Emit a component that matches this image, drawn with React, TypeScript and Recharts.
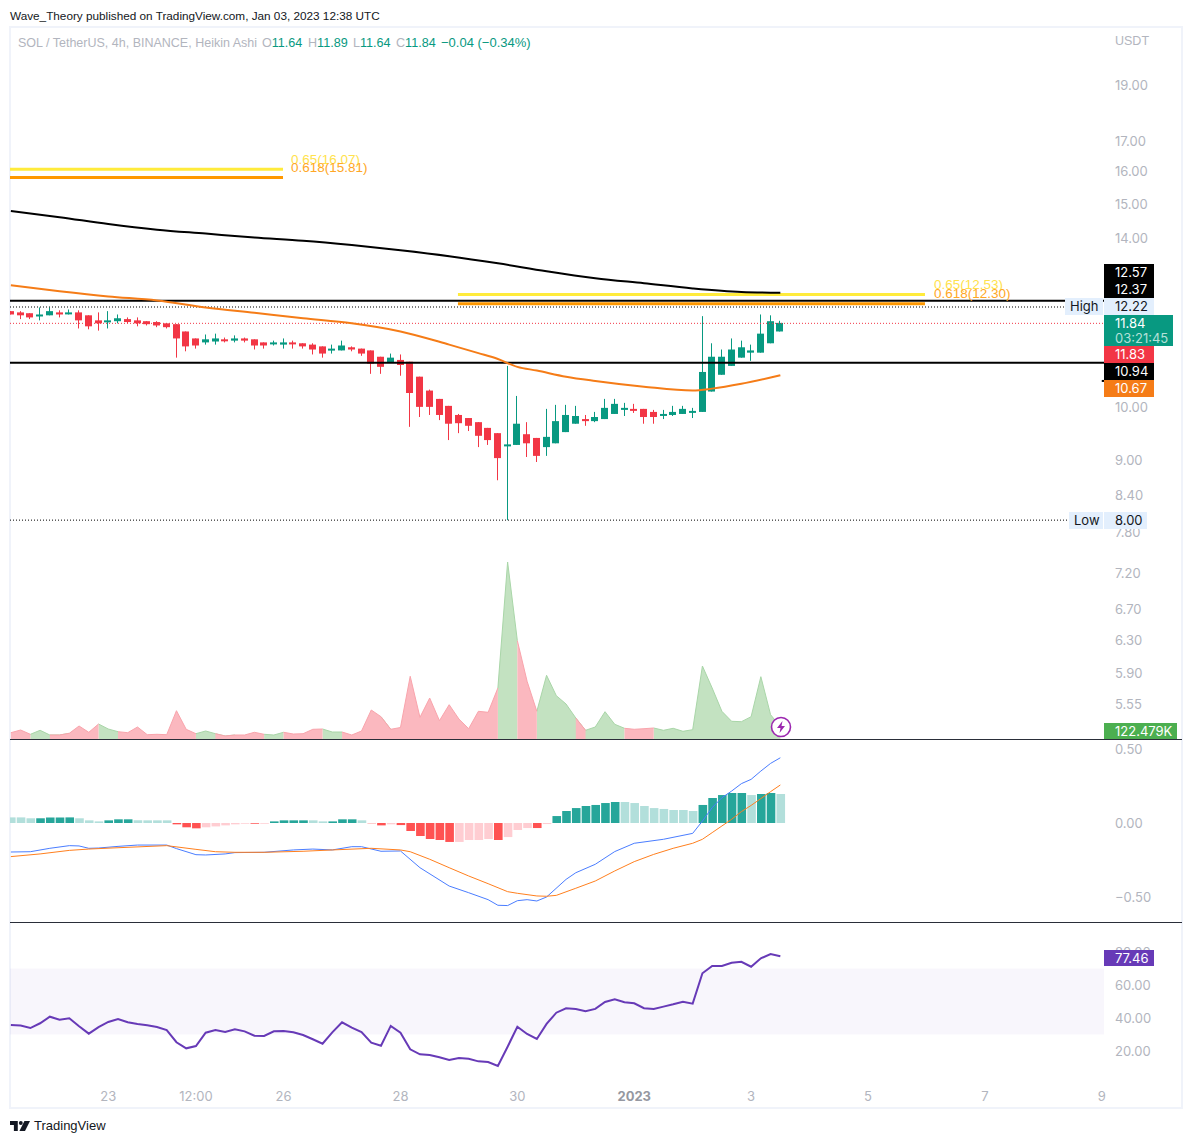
import {
  Area,
  Bar,
  Cell,
  ComposedChart,
  Line,
  ReferenceArea,
  ReferenceLine,
  XAxis,
  YAxis,
} from "recharts";

// heikin ashi candles, one entry per 4h bar
const opens = [
  12.12, 12.09, 12.07, 12.02, 12.02, 12.09, 12.07, 12.09, 12.02, 11.9, 11.86, 11.88, 11.93, 11.9, 11.88, 11.86,
  11.83, 11.81, 11.64, 11.48, 11.39, 11.41, 11.46, 11.43, 11.48, 11.46, 11.39, 11.37, 11.34, 11.39, 11.37, 11.34,
  11.3, 11.23, 11.21, 11.28, 11.25, 11.21, 11.07, 10.94, 11.0, 10.96, 10.64, 10.35, 10.18, 10.04, 9.86, 9.8,
  9.72, 9.61, 9.51, 9.27, 9.29, 9.49, 9.42, 9.25, 9.32, 9.53, 9.69, 9.78, 9.74, 9.78, 9.88, 9.96,
  9.98, 9.98, 9.92, 9.86, 9.86, 9.88, 9.92, 9.92, 10.33, 10.68, 10.87, 11.05, 11.16, 11.16, 11.37, 11.64,
];
const highs = [
  12.12, 12.12, 12.07, 12.21, 12.21, 12.14, 12.16, 12.14, 12.02, 12.09, 12.12, 12.04, 11.97, 11.97, 11.88, 11.88,
  11.83, 11.81, 11.64, 11.48, 11.57, 11.59, 11.5, 11.55, 11.5, 11.46, 11.39, 11.43, 11.48, 11.43, 11.37, 11.37,
  11.3, 11.34, 11.43, 11.3, 11.25, 11.21, 11.07, 11.14, 11.12, 10.96, 10.64, 10.37, 10.18, 10.04, 9.88, 9.8,
  9.72, 9.61, 9.51, 10.87, 10.24, 9.72, 9.42, 9.98, 10.06, 10.06, 10.04, 9.86, 9.92, 10.18, 10.18, 10.1,
  10.08, 9.98, 9.96, 9.96, 10.04, 10.04, 10.0, 12.0, 11.37, 11.23, 11.48, 11.43, 11.34, 12.04, 12.02, 11.89,
];
const lows = [
  12.04, 11.93, 11.93, 11.9, 12.02, 11.97, 12.04, 11.71, 11.69, 11.66, 11.71, 11.83, 11.83, 11.76, 11.78, 11.74,
  11.71, 11.05, 11.19, 11.25, 11.34, 11.34, 11.39, 11.39, 11.39, 11.23, 11.25, 11.32, 11.25, 11.25, 11.25, 11.12,
  11.05, 11.14, 11.21, 11.19, 11.09, 10.7, 10.7, 10.94, 10.66, 9.63, 9.82, 9.86, 9.76, 9.38, 9.51, 9.55,
  9.25, 9.29, 8.66, 8.0, 9.29, 9.07, 8.98, 9.09, 9.32, 9.53, 9.69, 9.65, 9.72, 9.78, 9.88, 9.84,
  9.9, 9.69, 9.69, 9.78, 9.84, 9.88, 9.8, 9.92, 10.33, 10.68, 10.87, 11.05, 10.98, 11.16, 11.37, 11.64,
];
const closes = [
  12.04, 12.02, 11.97, 12.04, 12.12, 12.04, 12.09, 11.9, 11.76, 11.83, 11.9, 11.95, 11.86, 11.83, 11.81, 11.78,
  11.74, 11.48, 11.3, 11.32, 11.46, 11.48, 11.43, 11.48, 11.43, 11.32, 11.32, 11.39, 11.39, 11.37, 11.3, 11.23,
  11.14, 11.25, 11.32, 11.23, 11.14, 10.92, 10.85, 11.05, 10.89, 10.3, 10.02, 10.02, 9.86, 9.69, 9.7, 9.65,
  9.46, 9.38, 9.05, 9.3, 9.69, 9.32, 9.09, 9.44, 9.74, 9.86, 9.84, 9.74, 9.82, 10.0, 10.08, 10.0,
  9.96, 9.82, 9.82, 9.88, 9.92, 9.98, 9.94, 10.74, 11.07, 11.07, 11.23, 11.28, 11.21, 11.59, 11.88, 11.84,
];
// volume in thousands
const volumes = [
  63, 90, 47, 87, 40, 40, 57, 130, 67, 150, 100, 73, 63, 120, 43, 47,
  43, 283, 97, 53, 80, 53, 30, 40, 40, 67, 47, 40, 67, 50, 53, 97,
  100, 70, 70, 40, 80, 290, 223, 97, 115, 627, 217, 410, 183, 343, 200, 103,
  277, 267, 510, 1770, 983, 577, 277, 637, 433, 350, 210, 87, 120, 273, 147, 107,
  97, 103, 110, 87, 107, 77, 93, 730, 510, 277, 177, 173, 223, 623, 243, 122.479,
];
const ema200Index = [0, 5, 10, 15, 20, 25, 30, 35, 40, 45, 50, 55, 60, 65, 70, 75, 79];
const ema200Values = [
  14.79, 14.61, 14.41, 14.25, 14.14, 14.03, 13.94, 13.82, 13.68, 13.52, 13.33, 13.12, 12.94, 12.81, 12.68, 12.59, 12.57,
];
const ema100Index = [0, 5, 10, 15, 20, 25, 30, 35, 40, 45, 48, 50, 52, 54, 57, 60, 65, 70, 72, 75, 79];
const ema100Values = [
  12.76, 12.61, 12.48, 12.38, 12.21, 12.08, 11.95, 11.83, 11.64, 11.34, 11.15, 11.02, 10.85, 10.77, 10.64, 10.55,
  10.43, 10.35, 10.39, 10.49, 10.67,
];
const histValues = [
  0.038, 0.038, 0.032, 0.032, 0.038, 0.038, 0.038, 0.032, 0.018, 0.011, 0.018, 0.025, 0.025, 0.018, 0.018, 0.018,
  0.018, -0.009, -0.029, -0.036, -0.029, -0.023, -0.016, -0.009, -0.005, -0.005, -0.005, 0.011, 0.018, 0.018, 0.018, 0.018,
  0.011, 0.011, 0.025, 0.025, 0.018, -0.002, -0.016, -0.009, -0.014, -0.054, -0.088, -0.108, -0.115, -0.128, -0.128, -0.115,
  -0.115, -0.108, -0.115, -0.095, -0.047, -0.034, -0.034, -0.007, 0.047, 0.081, 0.101, 0.115, 0.122, 0.135, 0.142, 0.142,
  0.135, 0.115, 0.101, 0.095, 0.088, 0.088, 0.081, 0.122, 0.169, 0.189, 0.203, 0.203, 0.189, 0.196, 0.203, 0.196,
];
const histLight = [
  0, 1, 2, 7, 8, 9, 13, 14, 15, 16, 20, 21, 22, 23, 24, 26, 31, 32, 36, 39, 46, 47, 48, 49, 51, 52, 53, 55, 63, 64, 65,
  66, 67, 68, 69, 70, 76, 79,
];
const macdIndex = [
  0, 2, 4, 6, 7, 8, 9, 11, 13, 16, 17, 19, 20, 22, 23, 26, 29, 31, 33, 35, 36, 38, 40, 42, 45, 47, 49, 50, 51, 52, 53,
  54, 55, 57, 58, 60, 62, 64, 67, 70, 71, 72, 73, 74, 75, 76, 77, 78, 79,
];
const macdValues = [
  -0.196, -0.194, -0.171, -0.153, -0.155, -0.171, -0.169, -0.158, -0.149, -0.149, -0.173, -0.214, -0.216, -0.209, -0.2,
  -0.198, -0.182, -0.176, -0.182, -0.16, -0.16, -0.191, -0.189, -0.302, -0.426, -0.471, -0.518, -0.556, -0.558, -0.525,
  -0.518, -0.527, -0.5, -0.381, -0.336, -0.279, -0.193, -0.137, -0.11, -0.07, 0.013, 0.104, 0.171, 0.216, 0.266, 0.295,
  0.351, 0.403, 0.441,
];
const signalIndex = [
  0, 3, 6, 8, 11, 16, 19, 21, 23, 26, 30, 33, 37, 40, 41, 43, 45, 47, 49, 51, 52, 54, 55, 56, 58, 60, 62, 64, 66, 68, 70,
  71, 72, 73, 74, 75, 76, 77, 78, 79,
];
const signalValues = [
  -0.227, -0.209, -0.185, -0.176, -0.167, -0.153, -0.178, -0.194, -0.198, -0.198, -0.191, -0.182, -0.171, -0.182, -0.194,
  -0.245, -0.302, -0.358, -0.41, -0.464, -0.475, -0.493, -0.495, -0.489, -0.441, -0.392, -0.324, -0.261, -0.212, -0.171,
  -0.137, -0.11, -0.065, -0.02, 0.025, 0.077, 0.119, 0.165, 0.212, 0.257,
];
const rsiValues = [
  35.8, 35.4, 33.9, 36.8, 40.8, 39, 39.8, 35, 30.5, 34.4, 37.6, 39.4, 37.4, 36.4, 35.6, 34.5,
  32.7, 25.3, 21.6, 23, 31.1, 32.7, 31.5, 33.1, 31.9, 29.3, 29.1, 31.9, 32.1, 31.3, 29.7, 27.1,
  24.4, 31.3, 37.4, 34.1, 31.5, 25, 23.2, 35.2, 31.1, 21, 18, 17.6, 16.2, 14.5, 15.8, 15.3,
  13.7, 13.3, 10.9, 22.6, 34.7, 30.3, 27.3, 36.4, 43.2, 45.9, 45.5, 44.1, 45.5, 49.7, 51.3, 49.5,
  48.9, 45.9, 45.5, 46.9, 48.3, 49.9, 48.7, 67.1, 71.5, 71.5, 73.5, 74.1, 71.1, 76.2, 78.8, 77.46,
];

const priceTicks = [19, 17, 16, 15, 14, 10, 9, 8.4, 7.8, 7.2, 6.7, 6.3, 5.9, 5.55];
const macdTicks = [0.5, 0, -0.5];
const rsiTicks = [80, 60, 40, 20];
const timeTicks = [10, 19, 28, 40, 52, 64, 76, 88, 100, 112];
const timeLabels = ["23", "12:00", "26", "28", "30", "2023", "3", "5", "7", "9"];

const UP = "#089981";
const DOWN = "#f23645";
const GREY = "#b2b5be";
const FONT = "Inter, 'Liberation Sans', sans-serif";
const TITLE_FONT = "'Liberation Sans', sans-serif";
const X_DOMAIN: [number, number] = [-0.09, 112.23];
const CHART_W = 1172;
const MARGIN = { top: 0, right: 0, left: 0, bottom: 0 };

const isUp = (i: number) => i < closes.length && closes[i] >= opens[i];
const isDown = (i: number) => i < closes.length && closes[i] < opens[i];
const lookup = (idx: number[], vals: number[], i: number) => {
  const at = idx.indexOf(i);
  return at < 0 ? null : vals[at];
};

const rows = opens.map((open, i) => ({
  i,
  open,
  high: highs[i],
  low: lows[i],
  close: closes[i],
  range: [lows[i], highs[i]],
  // a volume segment takes the colour of the bar it runs into
  volUp: isUp(i) || isUp(i + 1) ? volumes[i] : null,
  volDown: isDown(i) || isDown(i + 1) ? volumes[i] : null,
  ema200: lookup(ema200Index, ema200Values, i),
  ema100: lookup(ema100Index, ema100Values, i),
  hist: histValues[i],
  macd: lookup(macdIndex, macdValues, i),
  signal: lookup(signalIndex, signalValues, i),
  rsi: rsiValues[i],
}));

const histColor = (v: number, i: number) => {
  const light = histLight.includes(i);
  if (v >= 0) return light ? "#b2dfdb" : "#26a69a";
  return light ? "#ffcdd2" : "#ff5252";
};

// the bar spans low..high on the log scale, the body is placed inside that span
const Candle = (props: any) => {
  const { x, y, width, height, payload } = props;
  const top = Math.min(y, y + height);
  const h = Math.abs(height);
  const cx = Math.round(x + width / 2 - 0.5) + 0.5;
  const color = payload.close >= payload.open ? UP : DOWN;
  const span = Math.log(payload.high) - Math.log(payload.low) || 1;
  const at = (p: number) => top + (h * (Math.log(payload.high) - Math.log(p))) / span;
  const bodyTop = at(Math.max(payload.open, payload.close));
  const bodyBottom = at(Math.min(payload.open, payload.close));
  return (
    <g>
      <line x1={cx} x2={cx} y1={top} y2={top + h} stroke={color} strokeWidth={1} />
      <rect x={cx - 3.5} y={bodyTop} width={7} height={Math.max(bodyBottom - bodyTop, 2)} fill={color} />
    </g>
  );
};

const TimeTick = (props: any) => {
  const { x, y, payload } = props;
  const label = timeLabels[timeTicks.indexOf(payload.value)];
  const strong = label === "2023";
  return (
    <text
      x={x}
      y={y}
      dy={9}
      textAnchor="middle"
      fontSize={13}
      fontWeight={strong ? 700 : 400}
      fill={strong ? "#9598a1" : GREY}
      fontFamily={FONT}
    >
      {label}
    </text>
  );
};

const Tag = ({ left, top, width, height, bg, color = "#fff", pad = 11, children }: any) => (
  <div
    style={{
      position: "absolute",
      left,
      top,
      width: width - pad,
      height,
      lineHeight: `${height}px`,
      paddingLeft: pad,
      background: bg,
      color,
      fontSize: 13,
      whiteSpace: "nowrap",
    }}
  >
    {children}
  </div>
);

const Note = ({ left, top, color, size = 12.5, weight = 400, font = TITLE_FONT, children }: any) => (
  <div
    style={{
      position: "absolute",
      left,
      top,
      color,
      fontSize: size,
      fontWeight: weight,
      fontFamily: font,
      lineHeight: "16px",
      whiteSpace: "nowrap",
    }}
  >
    {children}
  </div>
);

const segment = (from: number, to: number, y: number) => [
  { x: from, y },
  { x: to, y },
];

const axisTick = { fill: GREY, fontSize: 13, fontFamily: FONT };

export default function App() {
  return (
    <div
      style={{
        position: "absolute",
        left: 0,
        top: 0,
        width: 1192,
        height: 1143,
        background: "#fff",
        fontFamily: FONT,
        overflow: "hidden",
      }}
    >
      <Note left={10} top={8} color="#131722" size={11.75}>
        Wave_Theory published on TradingView.com, Jan 03, 2023 12:38 UTC
      </Note>

      <div
        style={{
          position: "absolute",
          left: 9,
          top: 26,
          width: 1170,
          height: 1079,
          border: "2px solid #f0f3fa",
        }}
      />

      <div style={{ position: "absolute", left: 10, top: 27 }}>
        <ComposedChart width={CHART_W} height={712} data={rows} margin={MARGIN}>
          <XAxis dataKey="i" type="number" domain={X_DOMAIN} allowDataOverflow hide />
          <YAxis
            yAxisId="price"
            orientation="right"
            width={78}
            scale="log"
            domain={[5.178, 21.32]}
            allowDataOverflow
            ticks={priceTicks}
            interval={0}
            tick={axisTick}
            tickFormatter={(v: number) => v.toFixed(2)}
            axisLine={false}
            tickLine={false}
            tickMargin={5}
          />
          <YAxis yAxisId="vol" hide domain={[0, 7120]} />
          <Area
            yAxisId="vol"
            dataKey="volUp"
            type="linear"
            stroke="#a9d6a8"
            strokeWidth={1}
            fill="#c3e2c1"
            fillOpacity={1}
            isAnimationActive={false}
          />
          <Area
            yAxisId="vol"
            dataKey="volDown"
            type="linear"
            stroke="#f9a4ac"
            strokeWidth={1}
            fill="#fbb8bf"
            fillOpacity={1}
            isAnimationActive={false}
          />
          <ReferenceLine yAxisId="price" segment={segment(-0.09, 112.23, 11.83)} stroke={DOWN} strokeDasharray="1 2" />
          <ReferenceLine yAxisId="price" segment={segment(-0.09, 108.2, 12.22)} stroke="#000" strokeDasharray="1 2" />
          <ReferenceLine yAxisId="price" segment={segment(-0.09, 108.6, 8.0)} stroke="#000" strokeDasharray="1 2" />
          <ReferenceLine yAxisId="price" segment={segment(-0.09, 112.23, 12.37)} stroke="#000" strokeWidth={2} />
          <ReferenceLine yAxisId="price" segment={segment(-0.09, 112.23, 10.94)} stroke="#000" strokeWidth={2} />
          <ReferenceLine yAxisId="price" segment={segment(-0.09, 27.94, 16.07)} stroke="#ffeb3b" strokeWidth={3} />
          <ReferenceLine yAxisId="price" segment={segment(-0.09, 27.94, 15.81)} stroke="#ff9800" strokeWidth={3} />
          <ReferenceLine yAxisId="price" segment={segment(45.9, 93.85, 12.53)} stroke="#ffeb3b" strokeWidth={3} />
          <ReferenceLine yAxisId="price" segment={segment(45.9, 93.85, 12.3)} stroke="#ff9800" strokeWidth={3} />
          <ReferenceLine yAxisId="price" segment={segment(112, 112.23, 10.55)} stroke="#000" strokeWidth={2} />
          <Bar yAxisId="price" dataKey="range" barSize={7} shape={<Candle />} isAnimationActive={false} />
          <Line
            yAxisId="price"
            dataKey="ema200"
            type="monotone"
            stroke="#000"
            strokeWidth={2}
            dot={false}
            connectNulls
            isAnimationActive={false}
          />
          <Line
            yAxisId="price"
            dataKey="ema100"
            type="monotone"
            stroke="#f57c17"
            strokeWidth={2}
            dot={false}
            connectNulls
            isAnimationActive={false}
          />
        </ComposedChart>
      </div>

      <div style={{ position: "absolute", left: 10, top: 740 }}>
        <ComposedChart width={CHART_W} height={182} data={rows} margin={MARGIN}>
          <XAxis dataKey="i" type="number" domain={X_DOMAIN} allowDataOverflow hide />
          <YAxis
            orientation="right"
            width={78}
            domain={[-0.669, 0.561]}
            allowDataOverflow
            ticks={macdTicks}
            interval={0}
            tick={axisTick}
            tickFormatter={(v: number) => v.toFixed(2).replace("-", "\u2212")}
            axisLine={false}
            tickLine={false}
            tickMargin={5}
          />
          <Bar dataKey="hist" barSize={8.6} isAnimationActive={false}>
            {rows.map((r) => (
              <Cell key={r.i} fill={histColor(r.hist, r.i)} />
            ))}
          </Bar>
          <Line dataKey="macd" type="linear" stroke="#4a7dff" strokeWidth={1} dot={false} connectNulls isAnimationActive={false} />
          <Line dataKey="signal" type="linear" stroke="#ff7f1e" strokeWidth={1} dot={false} connectNulls isAnimationActive={false} />
        </ComposedChart>
      </div>

      <div style={{ position: "absolute", left: 10, top: 923 }}>
        <ComposedChart width={CHART_W} height={184} data={rows} margin={MARGIN}>
          <XAxis
            dataKey="i"
            type="number"
            domain={X_DOMAIN}
            allowDataOverflow
            ticks={timeTicks}
            interval={0}
            height={27}
            tick={<TimeTick />}
            axisLine={false}
            tickLine={false}
            tickMargin={6}
          />
          <YAxis
            orientation="right"
            width={78}
            domain={[2.4, 97.6]}
            allowDataOverflow
            ticks={rsiTicks}
            interval={0}
            tick={axisTick}
            tickFormatter={(v: number) => v.toFixed(2)}
            axisLine={false}
            tickLine={false}
            tickMargin={5}
          />
          <ReferenceArea y1={30} y2={70} fill="#7e57c2" fillOpacity={0.05} stroke="none" />
          <Line dataKey="rsi" type="linear" stroke="#673ab7" strokeWidth={2} dot={false} isAnimationActive={false} />
        </ComposedChart>
      </div>

      <div style={{ position: "absolute", left: 10, top: 739, width: 1172, height: 1, background: "#2a2e39" }} />
      <div style={{ position: "absolute", left: 10, top: 922, width: 1172, height: 1, background: "#2a2e39" }} />

      <Note left={18} top={35} color={GREY}>
        SOL / TetherUS, 4h, BINANCE, Heikin Ashi
      </Note>
      <Note left={262} top={35} color={GREY} size={12.6}>
        O<span style={{ color: UP }}>11.64</span>
      </Note>
      <Note left={308} top={35} color={GREY} size={12.6}>
        H<span style={{ color: UP }}>11.89</span>
      </Note>
      <Note left={353} top={35} color={GREY} size={12.6}>
        L<span style={{ color: UP }}>11.64</span>
      </Note>
      <Note left={396} top={35} color={GREY} size={12.6}>
        C<span style={{ color: UP }}>11.84</span>
      </Note>
      <Note left={441} top={35} color={UP} size={13}>
        {"\u22120.04 (\u22120.34%)"}
      </Note>
      <Note left={1115} top={33} color={GREY}>
        USDT
      </Note>

      <Note left={291} top={152} color="#ffe24d" size={13.5}>
        0.65(16.07)
      </Note>
      <Note left={291} top={160} color="#ffa726" size={13.5}>
        0.618(15.81)
      </Note>
      <Note left={934} top={277} color="#ffe24d" size={13.5}>
        0.65(12.53)
      </Note>
      <Note left={934} top={286} color="#ffa726" size={13.5}>
        0.618(12.30)
      </Note>

      <Tag left={1104} top={264} width={50} height={17} bg="#000">12.57</Tag>
      <Tag left={1104} top={281} width={50} height={17} bg="#000">12.37</Tag>
      <Tag left={1104} top={298} width={50} height={17} bg="#e3effd" color="#131722">12.22</Tag>
      <Tag left={1065} top={298} width={38} height={17} bg="#e3effd" color="#131722" pad={5}>High</Tag>
      <Tag left={1104} top={315} width={69} height={16} bg={UP}>11.84</Tag>
      <Tag left={1104} top={331} width={69} height={15} bg={UP} color="#b5e0d8">03:21:45</Tag>
      <Tag left={1104} top={346} width={50} height={17} bg={DOWN}>11.83</Tag>
      <Tag left={1104} top={363} width={50} height={17} bg="#000">10.94</Tag>
      <Tag left={1104} top={380} width={50} height={17} bg="#f57c17">10.67</Tag>
      <Tag left={1069} top={512} width={34} height={17} bg="#e3effd" color="#131722" pad={5}>Low</Tag>
      <Tag left={1104} top={512} width={43} height={17} bg="#e3effd" color="#131722">8.00</Tag>
      <Tag left={1104} top={723} width={73} height={16} bg="#4caf50">122.479K</Tag>
      <Tag left={1104} top={950} width={50} height={16} bg="#673ab7">77.46</Tag>

      <svg style={{ position: "absolute", left: 770, top: 716 }} width={22} height={22} viewBox="0 0 22 22">
        <circle cx={11} cy={11} r={9.5} fill="#fff" stroke="#9c27b0" strokeWidth={1.6} />
        <path d="M12.5 5 L7 12 H10.5 L9.5 17 L15 10 H11.5 Z" fill="#9c27b0" />
      </svg>

      <svg style={{ position: "absolute", left: 10, top: 1120 }} width={20} height={12} viewBox="0 0 36 20">
        <path d="M0 1 H14 V19 H7 V8 H0 Z" fill="#131722" />
        <circle cx={19.5} cy={4.5} r={3.5} fill="#131722" />
        <path d="M26 1 H36 L27 19 H17 Z" fill="#131722" />
      </svg>
      <Note left={34} top={1118} color="#131722" size={13}>
        TradingView
      </Note>
    </div>
  );
}
